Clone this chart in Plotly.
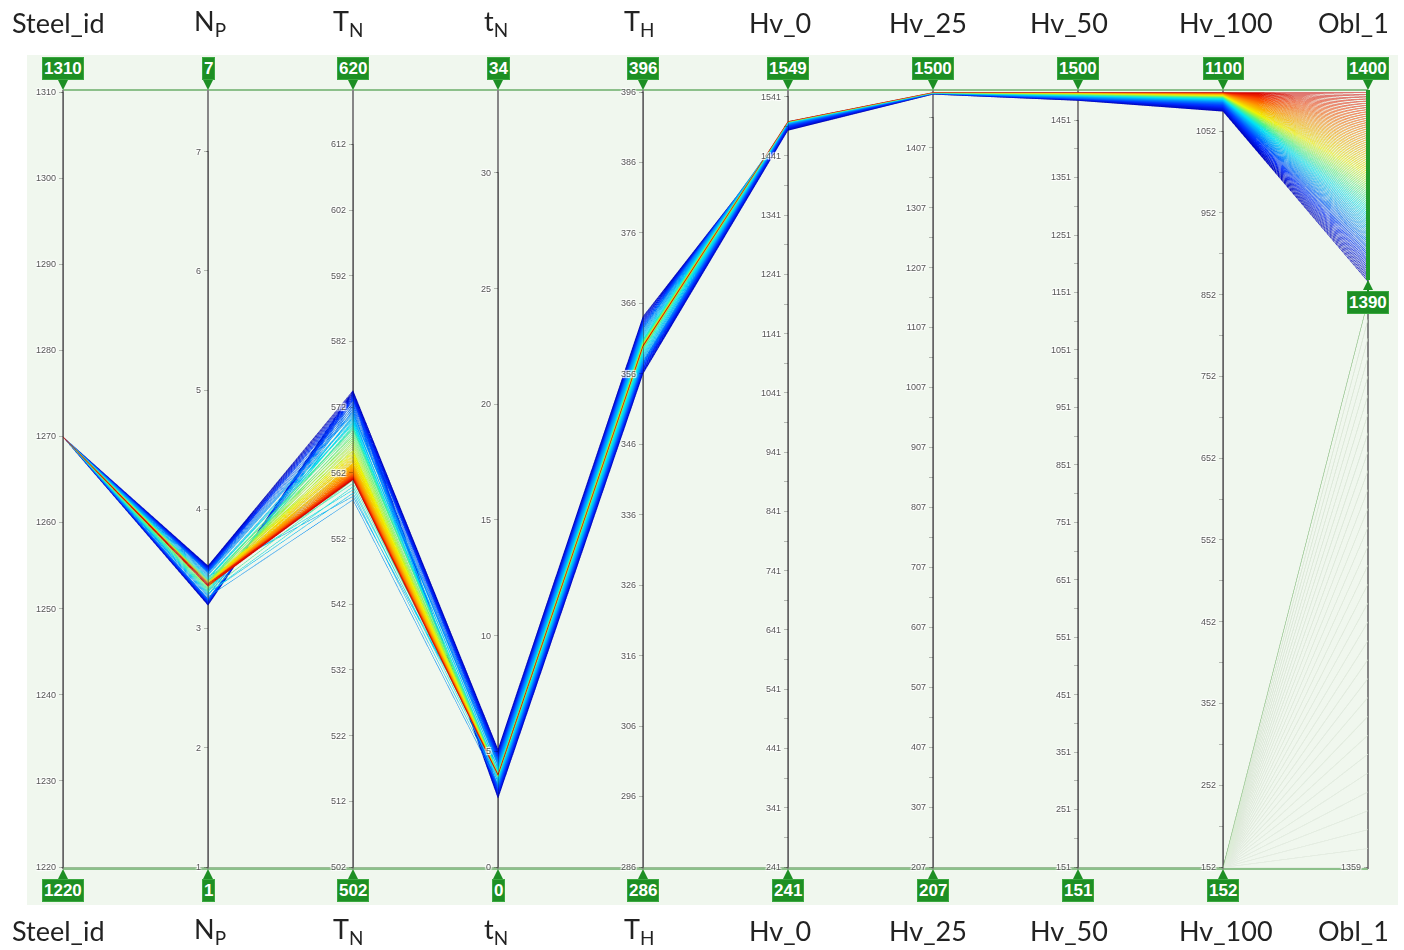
import plotly.graph_objects as go

# ---- column names -------------------------------------------------------
dim_names = ["Steel_id", "N<sub>P</sub>", "T<sub>N</sub>", "t<sub>N</sub>", "T<sub>H</sub>",
             "Hv_0", "Hv_25", "Hv_50", "Hv_100", "Obl_1"]

# ---- axis ranges --------------------------------------------------------
dim_ranges = [[1220, 1310], [1, 7.5], [502, 620], [0, 33.5], [286, 396],
              [241, 1549], [207, 1500], [151, 1500], [152, 1100], [1359, 1400]]

# values printed in the boxes at the ends of each axis
top_box = ["1310", "7", "620", "34", "396", "1549", "1500", "1500", "1100", "1400"]
bottom_box = ["1220", "1", "502", "0", "286", "241", "207", "151", "152", None]
obl_filter_low = 1390

# ---- tick values --------------------------------------------------------
steel_ticks = [1220, 1230, 1240, 1250, 1260, 1270, 1280, 1290, 1300, 1310]
np_ticks = [1, 2, 3, 4, 5, 6, 7]
TN_ticks = [502, 512, 522, 532, 542, 552, 562, 572, 582, 592, 602, 612]
tN_ticks = [0, 5, 10, 15, 20, 25, 30]
TH_ticks = [286, 296, 306, 316, 326, 336, 346, 356, 366, 376, 386, 396]
hv0_major = [241, 341, 441, 541, 641, 741, 841, 941, 1041, 1141, 1241, 1341, 1441, 1541]
hv0_minor = [291, 391, 491, 591, 691, 791, 891, 991, 1091, 1191, 1291, 1391, 1491]
hv25_major = [207, 307, 407, 507, 607, 707, 807, 907, 1007, 1107, 1207, 1307, 1407]
hv25_minor = [257, 357, 457, 557, 657, 757, 857, 957, 1057, 1157, 1257, 1357, 1457]
hv50_major = [151, 251, 351, 451, 551, 651, 751, 851, 951, 1051, 1151, 1251, 1351, 1451]
hv50_minor = [201, 301, 401, 501, 601, 701, 801, 901, 1001, 1101, 1201, 1301, 1401]
hv100_major = [152, 252, 352, 452, 552, 652, 752, 852, 952, 1052]
hv100_minor = [202, 302, 402, 502, 602, 702, 802, 902, 1002]
obl_ticks = [1359]

# ---- designs inside the Obl_1 filter (1390..1400), low Obl_1 first ------
obl_1 = [1390.0, 1390.1, 1390.2, 1390.3, 1390.4, 1390.5, 1390.6, 1390.7, 1390.8, 1390.9,
         1391.0, 1391.1, 1391.2, 1391.3, 1391.4, 1391.5, 1391.6, 1391.7, 1391.8, 1391.9,
         1392.0, 1392.1, 1392.2, 1392.3, 1392.4, 1392.5, 1392.6, 1392.7, 1392.8, 1392.9,
         1393.0, 1393.1, 1393.2, 1393.3, 1393.4, 1393.5, 1393.6, 1393.7, 1393.8, 1393.9,
         1394.0, 1394.1, 1394.2, 1394.3, 1394.4, 1394.5, 1394.6, 1394.7, 1394.8, 1394.9,
         1395.0, 1395.1, 1395.2, 1395.3, 1395.4, 1395.5, 1395.6, 1395.7, 1395.8, 1395.9,
         1396.0, 1396.1, 1396.2, 1396.3, 1396.4, 1396.5, 1396.6, 1396.7, 1396.8, 1396.9,
         1397.0, 1397.1, 1397.2, 1397.3, 1397.4, 1397.5, 1397.6, 1397.7, 1397.8, 1397.9,
         1398.0, 1398.1, 1398.2, 1398.3, 1398.4, 1398.5, 1398.6, 1398.7, 1398.8, 1398.9,
         1399.0, 1399.1, 1399.2, 1399.3, 1399.4, 1399.5, 1399.6, 1399.7, 1399.8, 1399.9,
         1400.0]
steel_id = [1270] * len(obl_1)
n_p = [3.53, 3.20, 3.525, 3.205, 3.52, 3.21, 3.515, 3.215, 3.51, 3.22, 3.505, 3.225, 3.50,
       3.23, 3.495, 3.235, 3.49, 3.24, 3.485, 3.245, 3.48, 3.25, 3.475, 3.255, 3.47,
       3.46, 3.27, 3.45, 3.28, 3.44, 3.29, 3.43, 3.30, 3.42, 3.31, 3.41, 3.32, 3.42, 3.30,
       3.43, 3.31, 3.41, 3.33, 3.40, 3.32, 3.41,
       3.40, 3.34, 3.39, 3.35, 3.40, 3.36, 3.39, 3.35, 3.38, 3.36,
       3.39, 3.37, 3.38, 3.36, 3.39, 3.37, 3.38, 3.37, 3.39, 3.36,
       3.38, 3.36, 3.37, 3.38, 3.36, 3.37, 3.38, 3.36, 3.37, 3.38, 3.36, 3.37, 3.38, 3.37, 3.36,
       3.37, 3.36, 3.38, 3.37, 3.36, 3.37, 3.38, 3.36, 3.37, 3.37,
       3.36, 3.38, 3.37, 3.36, 3.37, 3.38, 3.37, 3.36, 3.37, 3.37]
T_n = [574.6, 574.5, 574.4, 574.3, 574.2, 574.1, 574.0, 573.9, 573.8, 573.7, 573.6, 573.5, 573.4,
       573.3, 573.2, 573.1, 573.0, 572.8, 572.6, 572.4, 572.2, 572.0, 571.8, 571.6, 571.4,
       571.2, 558.0, 571.0, 570.8, 558.5, 570.6, 570.4, 559.0, 570.2, 570.0, 559.5, 569.8,
       569.6, 560.0, 569.4, 569.2, 560.5, 569.0, 568.8, 561.0, 568.6,
       568.3, 568.0, 567.7, 567.4, 567.1, 566.8, 566.5, 566.2, 565.9, 565.6,
       565.4, 565.2, 565.0, 564.8, 564.6, 564.4, 564.2, 564.0, 563.8, 563.6,
       563.5, 563.4, 563.3, 563.2, 563.1, 563.0, 562.9, 562.8, 562.7, 562.6, 562.5, 562.4,
       562.3, 562.2, 562.1,
       562.0, 561.95, 561.9, 561.85, 561.8, 561.75, 561.7, 561.65, 561.6, 561.55,
       561.5, 561.45, 561.4, 561.35, 561.3, 561.25, 561.2, 561.15, 561.1, 561.05]
t_n = [5.10, 3.00, 5.05, 3.05, 5.00, 3.10, 4.95, 3.15, 4.90, 3.20, 4.85, 3.25, 4.80,
       3.30, 4.75, 3.35, 4.70, 3.40, 4.65, 3.45, 4.60, 3.50, 4.55, 3.55, 4.50,
       4.45, 3.60, 4.40, 3.65, 4.35, 3.70, 4.30, 3.75, 4.25, 3.80, 4.20, 3.85, 4.15, 3.90,
       4.10, 3.95, 4.12, 3.92, 4.08, 3.96, 4.05,
       4.10, 3.90, 4.06, 3.94, 4.04, 3.96, 4.02, 3.98, 4.00, 4.01,
       4.03, 3.97, 4.02, 3.98, 4.01, 3.99, 4.00, 4.02, 3.98, 4.00,
       4.02, 3.98, 4.01, 3.99, 4.00, 4.02, 3.98, 4.01, 3.99, 4.00, 4.01, 3.99, 4.00, 4.02, 3.98,
       4.00, 4.01, 3.99, 4.00, 4.02, 3.98, 4.00, 4.01, 3.99, 4.00,
       4.01, 3.99, 4.00, 4.00, 4.01, 3.99, 4.00, 4.02, 3.98, 4.00]
T_h = [364.2, 356.1, 364.05, 356.25, 363.9, 356.4, 363.75, 356.55, 363.6, 356.7, 363.45, 356.85,
       363.3, 357.0, 363.15, 357.15, 363.0, 357.3, 362.85, 357.45, 362.7, 357.6, 362.55, 357.75,
       362.4,
       362.2, 357.9, 362.0, 358.1, 361.8, 358.3, 361.6, 358.5, 361.4, 358.7, 361.2, 358.9,
       361.0, 359.1, 360.9, 359.3, 360.8, 359.5, 360.7, 359.6, 360.6,
       360.5, 359.7, 360.45, 359.75, 360.4, 359.8, 360.35, 359.85, 360.3, 359.9,
       360.25, 359.95, 360.2, 360.0, 360.15, 360.05, 360.1, 360.0, 360.2, 359.95,
       360.1, 360.0, 360.15, 359.95, 360.05, 360.1, 360.0, 360.08, 359.98, 360.05, 360.02,
       360.1, 360.0, 360.06, 359.96,
       360.05, 360.0, 360.1, 359.98, 360.02, 360.06, 360.0, 360.04, 359.99, 360.03,
       360.01, 360.05, 360.0, 360.02, 359.97, 360.04, 360.0, 360.03, 360.01, 360.0]
hv_0 = [1485.0, 1485.5, 1486.0, 1486.5, 1487.0, 1487.5, 1488.0, 1488.5, 1489.0, 1489.5,
        1490.0, 1490.5, 1491.0, 1491.5, 1492.0, 1492.5, 1493.0, 1493.3, 1493.6, 1493.9,
        1494.2, 1494.5, 1494.8, 1495.1, 1495.4,
        1495.7, 1496.0, 1496.2, 1496.4, 1496.6, 1496.8, 1497.0, 1497.2, 1497.4, 1497.6,
        1497.8, 1498.0, 1498.1, 1498.2, 1498.3, 1498.4, 1498.5, 1498.6, 1498.7, 1498.8, 1498.9,
        1499.0, 1499.05, 1499.1, 1499.15, 1499.2, 1499.25, 1499.3, 1499.35, 1499.4, 1499.45,
        1499.5, 1499.52, 1499.54, 1499.56, 1499.58, 1499.6, 1499.62, 1499.64, 1499.66, 1499.68,
        1499.70, 1499.72, 1499.74, 1499.76, 1499.78, 1499.80, 1499.81, 1499.82, 1499.83,
        1499.84, 1499.85, 1499.86, 1499.87, 1499.88, 1499.89,
        1499.90, 1499.905, 1499.91, 1499.915, 1499.92, 1499.925, 1499.93, 1499.935, 1499.94,
        1499.945, 1499.95, 1499.955, 1499.96, 1499.965, 1499.97, 1499.975, 1499.98, 1499.985,
        1499.99, 1500.0]
hv_25 = [1497.0, 1497.05, 1497.1, 1497.15, 1497.2, 1497.25, 1497.3, 1497.35, 1497.4, 1497.45,
         1497.5, 1497.55, 1497.6, 1497.65, 1497.7, 1497.75, 1497.8, 1497.85, 1497.9, 1497.95,
         1498.0, 1498.05, 1498.1, 1498.15, 1498.2,
         1498.25, 1498.3, 1498.35, 1498.4, 1498.45, 1498.5, 1498.55, 1498.6, 1498.65, 1498.7,
         1498.75, 1498.8, 1498.85, 1498.9, 1498.95, 1499.0, 1499.05, 1499.1, 1499.15, 1499.2,
         1499.25,
         1499.3, 1499.33, 1499.36, 1499.39, 1499.42, 1499.45, 1499.48, 1499.51, 1499.54, 1499.57,
         1499.6, 1499.62, 1499.64, 1499.66, 1499.68, 1499.7, 1499.72, 1499.74, 1499.76, 1499.78,
         1499.8, 1499.81, 1499.82, 1499.83, 1499.84, 1499.85, 1499.86, 1499.87, 1499.88, 1499.89,
         1499.9, 1499.91, 1499.92, 1499.93, 1499.94,
         1499.95, 1499.95, 1499.96, 1499.96, 1499.96, 1499.97, 1499.97, 1499.97, 1499.98,
         1499.98, 1499.98, 1499.99, 1499.99, 1499.99, 1499.99, 1500.0, 1500.0, 1500.0, 1500.0,
         1500.0]
hv_50 = [1486.0, 1486.2, 1486.4, 1486.6, 1486.8, 1487.0, 1487.2, 1487.4, 1487.6, 1487.8,
         1488.0, 1488.2, 1488.4, 1488.6, 1488.8, 1489.0, 1489.2, 1489.4, 1489.6, 1489.8,
         1490.0, 1490.3, 1490.6, 1490.9, 1491.2,
         1491.5, 1491.8, 1492.1, 1492.4, 1492.7, 1493.0, 1493.2, 1493.4, 1493.6, 1493.8,
         1494.0, 1494.2, 1494.4, 1494.6, 1494.8, 1495.0, 1495.2, 1495.4, 1495.6, 1495.8, 1496.0,
         1496.2, 1496.4, 1496.6, 1496.8, 1497.0, 1497.2, 1497.4, 1497.6, 1497.8, 1498.0,
         1498.1, 1498.2, 1498.3, 1498.4, 1498.5, 1498.6, 1498.7, 1498.8, 1498.9, 1499.0,
         1499.05, 1499.1, 1499.15, 1499.2, 1499.25, 1499.3, 1499.35, 1499.4, 1499.45, 1499.5,
         1499.55, 1499.6, 1499.65, 1499.7, 1499.75,
         1499.76, 1499.78, 1499.8, 1499.81, 1499.82, 1499.83, 1499.84, 1499.85, 1499.86,
         1499.87, 1499.88, 1499.89, 1499.9, 1499.92, 1499.94, 1499.95, 1499.96, 1499.97,
         1499.98, 1500.0]
hv_100 = [1077.0, 1077.5, 1078.0, 1078.5, 1079.0, 1079.5, 1080.0, 1080.5, 1081.0, 1081.5,
          1082.0, 1082.5, 1083.0, 1083.5, 1084.0, 1084.5, 1085.0, 1085.5, 1086.0, 1086.4,
          1086.8, 1087.2, 1087.6, 1088.0, 1088.3,
          1088.6, 1088.9, 1089.2, 1089.5, 1089.8, 1090.1, 1090.4, 1090.7, 1091.0, 1091.3,
          1091.6, 1091.9, 1092.2, 1092.5, 1092.8, 1093.0, 1093.2, 1093.4, 1093.6, 1093.8, 1094.0,
          1094.2, 1094.4, 1094.6, 1094.8, 1095.0, 1095.2, 1095.4, 1095.6, 1095.8, 1096.0,
          1096.15, 1096.3, 1096.45, 1096.6, 1096.75, 1096.9, 1097.05, 1097.2, 1097.35, 1097.5,
          1097.6, 1097.7, 1097.8, 1097.9, 1098.0, 1098.1, 1098.2, 1098.3, 1098.4, 1098.5,
          1098.6, 1098.7, 1098.8, 1098.9, 1099.0,
          1099.05, 1099.1, 1099.15, 1099.2, 1099.25, 1099.3, 1099.35, 1099.4, 1099.45, 1099.5,
          1099.55, 1099.6, 1099.65, 1099.7, 1099.75, 1099.8, 1099.85, 1099.9, 1099.95, 1100.0]

kept = [steel_id, n_p, T_n, t_n, T_h, hv_0, hv_25, hv_50, hv_100, obl_1]
assert all(len(c) == len(obl_1) for c in kept)

# ---- designs outside the filter (faint context lines) -------------------
rej_obl_1 = [1359, 1360, 1361, 1362, 1363, 1364, 1365, 1366, 1367, 1368, 1369, 1370,
             1371, 1372, 1373, 1374, 1375, 1376, 1377, 1378, 1379, 1380, 1381, 1382,
             1383, 1384, 1385, 1386, 1387, 1388, 1389]
rej_floor = [1220, 1, 502, 0, 286, 241, 207, 151, 152]  # every other column sits at its minimum
rejected = [[v] * len(rej_obl_1) for v in rej_floor] + [rej_obl_1]

# context lines first, then high Obl_1 down to low Obl_1 so blue ends on top
columns = [r + k[::-1] for r, k in zip(rejected, kept)]


def ticks(major, minor=()):
    # parcoords keys tick positions by their text, so unlabeled minor ticks
    # each get a distinct blank label
    pairs = sorted([(v, str(v)) for v in major] + [(v, None) for v in minor])
    vals, text, blank = [], [], 0
    for v, t in pairs:
        if t is None:
            blank += 1
            t = " " * blank
        vals.append(v)
        text.append(t)
    return vals, text


tick_specs = [ticks(steel_ticks), ticks(np_ticks), ticks(TN_ticks), ticks(tN_ticks),
              ticks(TH_ticks), ticks(hv0_major, hv0_minor), ticks(hv25_major, hv25_minor),
              ticks(hv50_major, hv50_minor), ticks(hv100_major, hv100_minor), ticks(obl_ticks)]

cmin, cmax = dim_ranges[-1]
f = (obl_filter_low - cmin) / (cmax - cmin)


def at(t):
    return f + (1 - f) * t


colorscale = [
    [0.0, "rgb(230,241,226)"],
    [0.715, "rgb(218,235,212)"],
    [0.725, "rgb(128,190,118)"],
    [f - 0.001, "rgb(128,190,118)"],
    [at(0.0), "rgb(0,0,185)"],
    [at(0.12), "rgb(0,40,255)"],
    [at(0.25), "rgb(0,140,255)"],
    [at(0.37), "rgb(0,228,245)"],
    [at(0.47), "rgb(90,245,130)"],
    [at(0.58), "rgb(240,245,0)"],
    [at(0.75), "rgb(255,150,0)"],
    [at(0.90), "rgb(250,60,0)"],
    [at(1.0), "rgb(215,0,0)"],
]

# plot area (paper fractions)
X0, X1 = 63 / 1404, 1368 / 1404
Y0, Y1 = 1 - 869 / 950, 1 - 90 / 950

dimensions = []
for rng, col, (tv, tt) in zip(dim_ranges, columns, tick_specs):
    dimensions.append(dict(label="", range=rng, values=col, tickvals=tv, ticktext=tt))

fig = go.Figure(go.Parcoords(
    domain=dict(x=[X0, X1], y=[Y0, Y1]),
    line=dict(color=columns[-1], colorscale=colorscale, cmin=cmin, cmax=cmax, showscale=False),
    dimensions=dimensions,
    tickfont=dict(size=9, color="#555555", family="Arial"),
    rangefont=dict(size=1, color="#f0f7ee"),
    labelfont=dict(size=1),
))

n = len(dim_names)
axis_x = [X0 + i * (X1 - X0) / (n - 1) for i in range(n)]
# horizontal nudge (px) of each column title relative to its axis
title_nudge = [0, 2, -5, -2, -4, -8, -5, -9, 3, 0]


def y_of(i, v):
    lo, hi = dim_ranges[i]
    return Y0 + (v - lo) / (hi - lo) * (Y1 - Y0)


shapes = [
    # light panel
    dict(type="rect", xref="paper", yref="paper", x0=27 / 1404, x1=1398 / 1404,
         y0=1 - 905 / 950, y1=1 - 55 / 950, fillcolor="#f0f7ee", line=dict(width=0), layer="below"),
    # upper / lower filter guide lines
    dict(type="line", xref="paper", yref="paper", x0=X0, x1=X1, y0=Y1, y1=Y1,
         line=dict(color="#8cc08a", width=2), layer="below"),
    dict(type="line", xref="paper", yref="paper", x0=X0, x1=X1, y0=Y0, y1=Y0,
         line=dict(color="#8cc08a", width=2), layer="below"),
]
# axis spines
for xa in axis_x:
    shapes.append(dict(type="line", xref="paper", yref="paper", x0=xa, x1=xa, y0=Y0, y1=Y1,
                       line=dict(color="#868686", width=2), layer="below"))
# active filter band on Obl_1
shapes.append(dict(type="line", xref="paper", yref="paper", x0=X1, x1=X1,
                   y0=y_of(n - 1, obl_filter_low), y1=Y1,
                   line=dict(color="#1f9a2a", width=4), layer="above"))

annotations = []
title_font = dict(family="Lato, Carlito, sans-serif", size=27, color="#222222")
box_font = dict(family="Arial", size=17, color="white")


def box(x, y, text, ay):
    return dict(x=x, y=y, xref="paper", yref="paper", text="<b>" + text + "</b>", font=box_font,
                bgcolor="#1d8f24", bordercolor="#3aa83f", borderwidth=1, borderpad=1,
                showarrow=True, ax=0, ay=ay, arrowhead=2, arrowsize=1, arrowwidth=2,
                arrowcolor="#1d8f24", standoff=0)


def title(i, ypx):
    a = dict(x=axis_x[i] + title_nudge[i] / 1404, y=1 - ypx / 950, xref="paper", yref="paper",
             text=dim_names[i], showarrow=False, font=title_font,
             xanchor="center", yanchor="middle")
    if i == 0:
        a.update(x=10 / 1404, xanchor="left")
    elif i == n - 1:
        a.update(x=1391 / 1404, xanchor="right")
    return a


for i in range(n):
    annotations.append(title(i, 22))
    annotations.append(title(i, 930))
    annotations.append(box(axis_x[i], Y1, top_box[i], -21))
    if bottom_box[i] is not None:
        annotations.append(box(axis_x[i], Y0, bottom_box[i], 21))

annotations.append(box(axis_x[-1], y_of(n - 1, obl_filter_low), str(obl_filter_low), 23))

fig.update_layout(
    width=1404, height=950,
    margin=dict(l=0, r=0, t=0, b=0),
    paper_bgcolor="white",
    shapes=shapes,
    annotations=annotations,
)

fig.write_html("out.html", config={"displayModeBar": False})
